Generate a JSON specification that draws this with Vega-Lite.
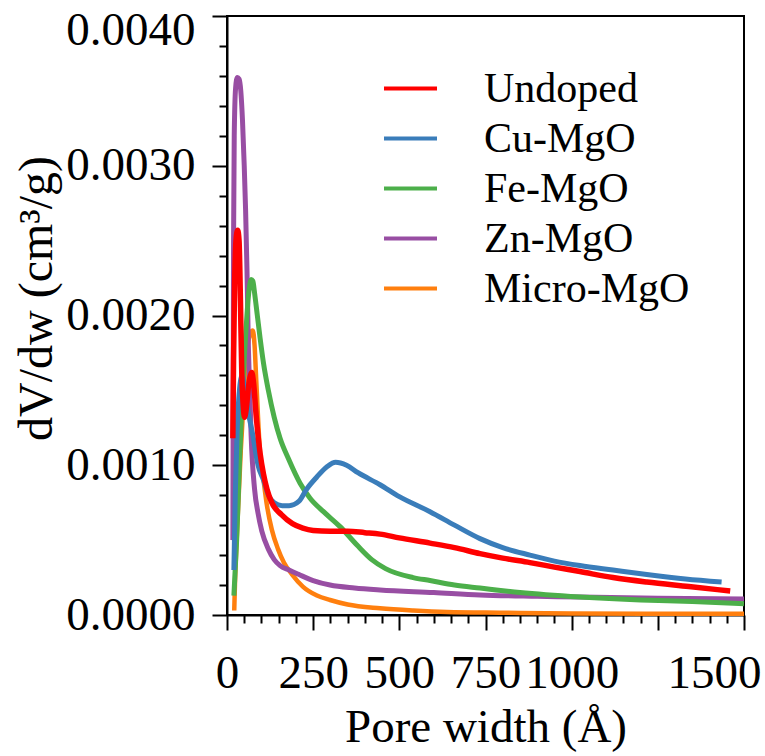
{
  "$schema": "https://vega.github.io/schema/vega-lite/v6.json",
  "width": 517,
  "height": 599,
  "autosize": "none",
  "padding": {"left": 227, "top": 16, "right": 21, "bottom": 141},
  "background": "white",
  "config": {
    "font": "Liberation Serif",
    "view": {"stroke": "black", "strokeWidth": 2},
    "axis": {"grid": false, "domainColor": "black", "domainWidth": 2, "tickColor": "black", "tickWidth": 2, "labelColor": "black", "titleColor": "black", "labelFont": "Liberation Serif", "titleFont": "Liberation Serif", "titleFontWeight": "normal"},
    "legend": {"labelFont": "Liberation Serif"}
  },
  "data": {"values": [
    {"s":"Undoped","w":17,"v":0.00118},{"s":"Undoped","w":19,"v":0.0017},{"s":"Undoped","w":22,"v":0.0022},{"s":"Undoped","w":26,"v":0.0025},{"s":"Undoped","w":31,"v":0.00257},{"s":"Undoped","w":35,"v":0.0025},{"s":"Undoped","w":39,"v":0.0021},{"s":"Undoped","w":43,"v":0.0016},{"s":"Undoped","w":47,"v":0.0014},{"s":"Undoped","w":51,"v":0.00132},{"s":"Undoped","w":56,"v":0.00138},{"s":"Undoped","w":62,"v":0.00152},{"s":"Undoped","w":68,"v":0.0016},{"s":"Undoped","w":72,"v":0.00162},{"s":"Undoped","w":77,"v":0.00155},{"s":"Undoped","w":85,"v":0.00132},{"s":"Undoped","w":96,"v":0.00108},{"s":"Undoped","w":106,"v":0.00094},{"s":"Undoped","w":116,"v":0.00084},{"s":"Undoped","w":130,"v":0.00075},{"s":"Undoped","w":158,"v":0.00067},{"s":"Undoped","w":190,"v":0.00061},{"s":"Undoped","w":220,"v":0.00058},{"s":"Undoped","w":250,"v":0.000565},{"s":"Undoped","w":299,"v":0.00056},{"s":"Undoped","w":350,"v":0.00056},{"s":"Undoped","w":400,"v":0.00055},{"s":"Undoped","w":444,"v":0.00054},{"s":"Undoped","w":500,"v":0.000515},{"s":"Undoped","w":589,"v":0.00048},{"s":"Undoped","w":660,"v":0.00045},{"s":"Undoped","w":734,"v":0.00041},{"s":"Undoped","w":800,"v":0.00038},{"s":"Undoped","w":879,"v":0.00035},{"s":"Undoped","w":950,"v":0.00032},{"s":"Undoped","w":1024,"v":0.00029},{"s":"Undoped","w":1120,"v":0.00025},{"s":"Undoped","w":1218,"v":0.00022},{"s":"Undoped","w":1340,"v":0.00019},{"s":"Undoped","w":1460,"v":0.00016},
    {"s":"Cu-MgO","w":20,"v":0.0003},{"s":"Cu-MgO","w":24,"v":0.0008},{"s":"Cu-MgO","w":29,"v":0.0012},{"s":"Cu-MgO","w":36,"v":0.0015},{"s":"Cu-MgO","w":44,"v":0.0016},{"s":"Cu-MgO","w":52,"v":0.0015},{"s":"Cu-MgO","w":62,"v":0.00135},{"s":"Cu-MgO","w":75,"v":0.0012},{"s":"Cu-MgO","w":90,"v":0.001},{"s":"Cu-MgO","w":106,"v":0.0009},{"s":"Cu-MgO","w":120,"v":0.0008},{"s":"Cu-MgO","w":137,"v":0.00075},{"s":"Cu-MgO","w":160,"v":0.00073},{"s":"Cu-MgO","w":180,"v":0.00073},{"s":"Cu-MgO","w":209,"v":0.00076},{"s":"Cu-MgO","w":231,"v":0.00084},{"s":"Cu-MgO","w":260,"v":0.00092},{"s":"Cu-MgO","w":290,"v":0.00099},{"s":"Cu-MgO","w":315,"v":0.00102},{"s":"Cu-MgO","w":347,"v":0.001},{"s":"Cu-MgO","w":380,"v":0.00095},{"s":"Cu-MgO","w":444,"v":0.00087},{"s":"Cu-MgO","w":500,"v":0.00079},{"s":"Cu-MgO","w":589,"v":0.00069},{"s":"Cu-MgO","w":660,"v":0.0006},{"s":"Cu-MgO","w":734,"v":0.00051},{"s":"Cu-MgO","w":800,"v":0.00045},{"s":"Cu-MgO","w":879,"v":0.0004},{"s":"Cu-MgO","w":950,"v":0.00036},{"s":"Cu-MgO","w":1024,"v":0.00033},{"s":"Cu-MgO","w":1120,"v":0.0003},{"s":"Cu-MgO","w":1218,"v":0.00027},{"s":"Cu-MgO","w":1330,"v":0.00024},{"s":"Cu-MgO","w":1435,"v":0.00022},
    {"s":"Fe-MgO","w":20,"v":0.00013},{"s":"Fe-MgO","w":28,"v":0.0005},{"s":"Fe-MgO","w":36,"v":0.001},{"s":"Fe-MgO","w":45,"v":0.0015},{"s":"Fe-MgO","w":55,"v":0.0019},{"s":"Fe-MgO","w":63,"v":0.00215},{"s":"Fe-MgO","w":70,"v":0.00224},{"s":"Fe-MgO","w":75,"v":0.00223},{"s":"Fe-MgO","w":80,"v":0.00215},{"s":"Fe-MgO","w":88,"v":0.002},{"s":"Fe-MgO","w":96,"v":0.00185},{"s":"Fe-MgO","w":106,"v":0.00168},{"s":"Fe-MgO","w":120,"v":0.0015},{"s":"Fe-MgO","w":137,"v":0.00132},{"s":"Fe-MgO","w":154,"v":0.00118},{"s":"Fe-MgO","w":179,"v":0.00104},{"s":"Fe-MgO","w":212,"v":0.00088},{"s":"Fe-MgO","w":241,"v":0.00078},{"s":"Fe-MgO","w":280,"v":0.00069},{"s":"Fe-MgO","w":328,"v":0.00059},{"s":"Fe-MgO","w":380,"v":0.00046},{"s":"Fe-MgO","w":420,"v":0.00037},{"s":"Fe-MgO","w":460,"v":0.00031},{"s":"Fe-MgO","w":540,"v":0.00025},{"s":"Fe-MgO","w":589,"v":0.00023},{"s":"Fe-MgO","w":660,"v":0.0002},{"s":"Fe-MgO","w":734,"v":0.00018},{"s":"Fe-MgO","w":850,"v":0.00015},{"s":"Fe-MgO","w":1024,"v":0.00012},{"s":"Fe-MgO","w":1200,"v":0.0001},{"s":"Fe-MgO","w":1350,"v":0.00009},{"s":"Fe-MgO","w":1500,"v":0.000075},
    {"s":"Zn-MgO","w":17,"v":0.0005},{"s":"Zn-MgO","w":19,"v":0.0025},{"s":"Zn-MgO","w":21,"v":0.0032},{"s":"Zn-MgO","w":25,"v":0.00352},{"s":"Zn-MgO","w":30,"v":0.00359},{"s":"Zn-MgO","w":35,"v":0.00358},{"s":"Zn-MgO","w":40,"v":0.0035},{"s":"Zn-MgO","w":45,"v":0.0033},{"s":"Zn-MgO","w":50,"v":0.003},{"s":"Zn-MgO","w":54,"v":0.0027},{"s":"Zn-MgO","w":58,"v":0.0023},{"s":"Zn-MgO","w":62,"v":0.0018},{"s":"Zn-MgO","w":66,"v":0.0015},{"s":"Zn-MgO","w":70,"v":0.0012},{"s":"Zn-MgO","w":80,"v":0.00084},{"s":"Zn-MgO","w":90,"v":0.00068},{"s":"Zn-MgO","w":101,"v":0.00056},{"s":"Zn-MgO","w":120,"v":0.00044},{"s":"Zn-MgO","w":137,"v":0.00037},{"s":"Zn-MgO","w":154,"v":0.00033},{"s":"Zn-MgO","w":180,"v":0.0003},{"s":"Zn-MgO","w":209,"v":0.00027},{"s":"Zn-MgO","w":250,"v":0.00023},{"s":"Zn-MgO","w":299,"v":0.0002},{"s":"Zn-MgO","w":370,"v":0.00018},{"s":"Zn-MgO","w":444,"v":0.000167},{"s":"Zn-MgO","w":600,"v":0.00015},{"s":"Zn-MgO","w":734,"v":0.000134},{"s":"Zn-MgO","w":900,"v":0.000125},{"s":"Zn-MgO","w":1024,"v":0.00012},{"s":"Zn-MgO","w":1250,"v":0.000112},{"s":"Zn-MgO","w":1500,"v":0.000107},
    {"s":"Micro-MgO","w":21,"v":0.00003},{"s":"Micro-MgO","w":23,"v":0.0002},{"s":"Micro-MgO","w":30,"v":0.0006},{"s":"Micro-MgO","w":40,"v":0.0011},{"s":"Micro-MgO","w":50,"v":0.0015},{"s":"Micro-MgO","w":60,"v":0.0018},{"s":"Micro-MgO","w":68,"v":0.00188},{"s":"Micro-MgO","w":75,"v":0.0019},{"s":"Micro-MgO","w":80,"v":0.0018},{"s":"Micro-MgO","w":85,"v":0.00156},{"s":"Micro-MgO","w":96,"v":0.00108},{"s":"Micro-MgO","w":106,"v":0.0009},{"s":"Micro-MgO","w":116,"v":0.00073},{"s":"Micro-MgO","w":130,"v":0.00057},{"s":"Micro-MgO","w":148,"v":0.00044},{"s":"Micro-MgO","w":165,"v":0.00035},{"s":"Micro-MgO","w":189,"v":0.00027},{"s":"Micro-MgO","w":220,"v":0.00019},{"s":"Micro-MgO","w":261,"v":0.00013},{"s":"Micro-MgO","w":299,"v":0.0001},{"s":"Micro-MgO","w":350,"v":0.00007},{"s":"Micro-MgO","w":444,"v":0.000045},{"s":"Micro-MgO","w":540,"v":0.00003},{"s":"Micro-MgO","w":638,"v":0.00002},{"s":"Micro-MgO","w":800,"v":0.000015},{"s":"Micro-MgO","w":1000,"v":0.00001},{"s":"Micro-MgO","w":1500,"v":0.000008}
  ]},
  "encoding": {
    "x": {"field": "w", "type": "quantitative", "scale": {"domain": [0, 1500], "nice": false},
      "axis": {"orient": "bottom", "values": [0,50,100,150,200,250,300,350,400,450,500,550,600,650,700,750,800,850,900,950,1000,1050,1100,1150,1200,1250,1300,1350,1400,1450,1500],
        "labelExpr": "(datum.value % 250 == 0 && datum.value != 1250) ? format(datum.value, 'd') : ''",
        "labelOverlap": false, "labelFlush": false, "labelFontSize": 47, "labelPadding": 20,
        "labelOffset": {"condition": {"test": "datum.value == 1500", "value": -30}, "value": 0},
        "tickSize": {"condition": {"test": "datum.value % 250 == 0", "value": 15}, "value": 8},
        "title": "Pore width (Å)", "titleFontSize": 47, "titlePadding": 8}},
    "y": {"field": "v", "type": "quantitative", "scale": {"domain": [0, 0.004], "nice": false},
      "axis": {"orient": "left", "values": [0,0.0002,0.0004,0.0006,0.0008,0.001,0.0012,0.0014,0.0016,0.0018,0.002,0.0022,0.0024,0.0026,0.0028,0.003,0.0032,0.0034,0.0036,0.0038,0.004],
        "labelExpr": "abs(datum.value*1000 - round(datum.value*1000)) < 0.000001 ? format(datum.value, '.4f') : ''",
        "labelOverlap": false, "labelFlush": false, "labelFontSize": 47, "labelPadding": 17,
        "labelBaseline": {"condition": {"test": "datum.value > 0.0039", "value": "top"}, "value": "middle"},
        "labelOffset": {"condition": {"test": "datum.value > 0.0039", "value": -9}, "value": 0},
        "tickSize": {"condition": {"test": "abs(datum.value*1000 - round(datum.value*1000)) < 0.000001", "value": 15}, "value": 8},
        "title": "dV/dw (cm³/g)", "titleFontSize": 48, "titlePadding": 4, "titleY": 282}},
    "color": {"field": "s", "type": "nominal", "scale": {"domain": ["Undoped","Cu-MgO","Fe-MgO","Zn-MgO","Micro-MgO"], "range": ["#ff0000","#3a7dba","#4caf4a","#984ea3","#ff7f0e"]},
      "legend": {"orient": "none", "legendX": 155, "legendY": 44, "title": null, "padding": 0, "symbolType": "stroke", "symbolSize": 2809, "symbolStrokeWidth": 4, "labelFontSize": 42, "labelColor": "black", "labelOffset": 45, "labelLimit": 0, "rowPadding": -2}}
  },
  "layer": [
    {"transform": [{"filter": "datum.s == 'Micro-MgO'"}], "mark": {"type": "line", "interpolate": "monotone", "strokeWidth": 4.5}},
    {"transform": [{"filter": "datum.s == 'Zn-MgO'"}], "mark": {"type": "line", "interpolate": "monotone", "strokeWidth": 5}},
    {"transform": [{"filter": "datum.s == 'Fe-MgO'"}], "mark": {"type": "line", "interpolate": "monotone", "strokeWidth": 5}},
    {"transform": [{"filter": "datum.s == 'Cu-MgO'"}], "mark": {"type": "line", "interpolate": "monotone", "strokeWidth": 5}},
    {"transform": [{"filter": "datum.s == 'Undoped'"}], "mark": {"type": "line", "interpolate": "monotone", "strokeWidth": 5.5}}
  ]
}
